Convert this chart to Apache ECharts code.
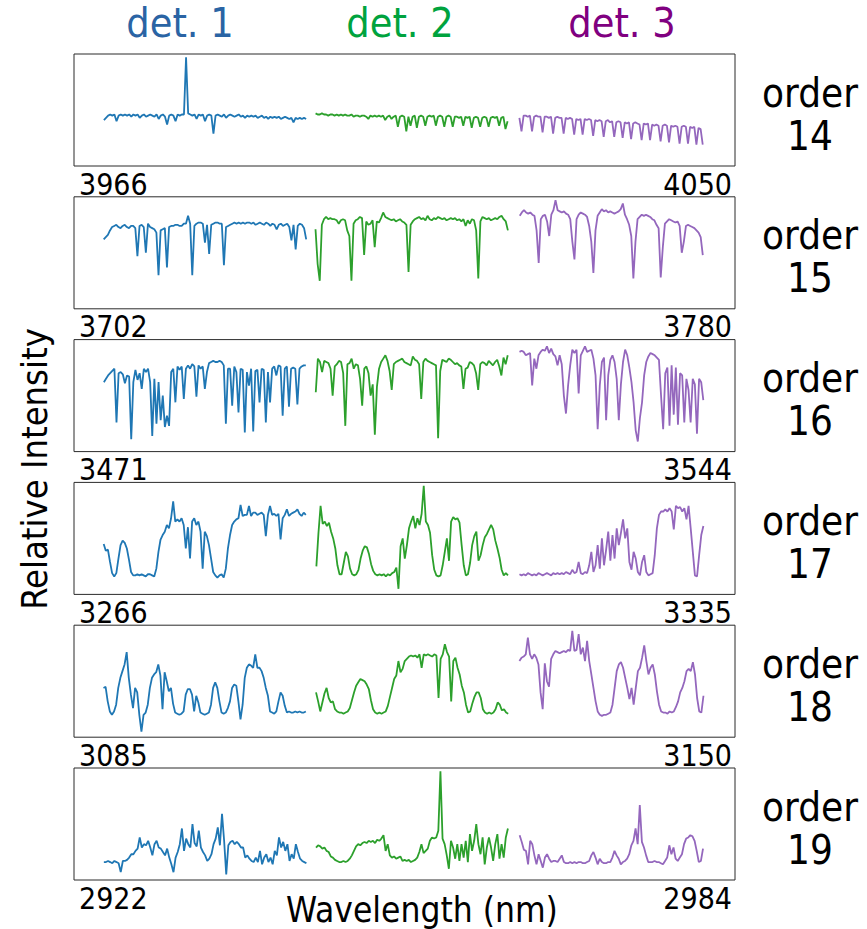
<!DOCTYPE html>
<html><head><meta charset="utf-8">
<script src="https://cdn.jsdelivr.net/npm/echarts@6/dist/echarts.min.js"></script>
<style>html,body{margin:0;padding:0;background:#fff}#c{width:867px;height:929px}</style>
</head><body><div id="c"></div>
<script>
// ---- data ----
const orderNames = ['14','15','16','17','18','19'];
const wlRanges = [[3966,4050],[3702,3780],[3471,3544],[3266,3335],[3085,3150],[2922,2984]];
const det1Span = [[3969.8,3995.5],[3705.5,3729.4],[3474.3,3496.6],[3269.1,3290.2],[3087.9,3107.8],[2924.8,2943.8]];
const det2Span = [[3996.7,4021.1],[3730.5,3753.2],[3497.7,3518.9],[3291.3,3311.3],[3108.8,3127.7],[2944.7,2962.7]];
const det3Span = [[4022.6,4045.9],[3754.6,3776.2],[3520.2,3540.5],[3312.5,3331.7],[3128.8,3146.9],[2963.8,2981.0]];
const detNames = ['det. 1','det. 2','det. 3'];

const o14d1 = [41,43,45,46,45,46,40,45,46,45,46,45,46,44,46,45,46,43,45,46,44,45,46,45,44,46,42,45,46,44,37,45,46,45,40,46,45,46,46,97,47,46,45,46,42,46,45,46,40,45,46,45,29,45,46,45,44,46,43,45,46,45,44,45,46,44,45,43,45,44,45,44,45,43,44,45,43,44,42,44,43,44,43,44,42,43,44,43,42,43,39,43,42,43,42,43,42];
const o14d2 = [47,46,46,47,46,46,45,46,46,45,46,45,46,45,46,45,45,46,44,45,45,44,45,45,44,42,45,44,45,44,45,44,45,41,44,45,42,44,45,35,44,45,44,31,44,36,44,45,34,44,45,44,36,44,45,44,45,36,44,45,44,35,44,45,44,35,44,44,43,44,36,44,43,44,34,43,44,43,35,43,44,43,35,43,44,43,44,36,43,44,33,40];
const o14d3 = [43,31,45,45,44,45,31,44,45,44,44,30,44,44,43,44,29,43,44,43,43,29,43,42,43,42,28,42,41,42,28,42,41,42,41,27,41,40,41,40,26,40,41,39,40,26,39,40,39,25,39,38,39,24,38,39,38,37,23,38,37,38,23,37,36,37,36,22,36,37,36,21,36,35,36,35,20,35,36,35,20,35,34,35,19,34,33,19];

const o15d1 = [62,64,66,70,73,74,75,73,72,74,75,73,72,74,74,72,47,74,75,73,50,76,73,72,71,68,30,70,71,72,37,73,74,74,75,75,74,74,76,76,83,76,30,74,76,77,77,76,59,75,49,75,76,77,77,76,76,39,73,74,75,76,77,76,77,76,77,76,77,77,76,77,75,76,77,76,75,77,76,74,76,75,71,75,76,74,75,76,73,61,75,53,74,76,75,72,62];
const o15d2 = [71,40,25,75,80,82,80,81,80,80,79,76,79,80,79,70,65,25,76,79,80,82,81,48,78,75,76,79,55,78,77,81,86,82,81,80,79,80,78,79,80,78,77,75,33,75,78,80,81,82,80,81,79,83,80,79,81,80,82,81,80,81,79,80,81,80,81,79,80,78,80,74,79,76,80,79,70,27,78,82,81,80,81,79,80,81,80,82,83,80,78,70];
const o15d3 = [83,86,88,86,85,86,84,83,70,41,80,83,84,78,65,84,88,97,88,87,86,87,85,84,80,60,44,80,84,86,85,84,82,74,60,32,70,83,86,89,87,88,86,87,86,85,86,87,89,94,84,80,75,65,27,60,80,82,84,83,84,83,82,80,79,75,72,28,55,76,78,80,79,78,77,78,74,50,60,74,75,74,73,72,70,68,64,48];

const o16d1 = [62,65,68,70,72,74,26,70,71,69,61,68,67,11,62,73,64,70,56,74,71,74,62,14,65,25,62,28,50,22,32,23,71,74,44,76,73,76,47,74,77,74,78,76,49,77,74,76,56,71,79,80,81,80,80,81,80,77,25,74,74,41,76,71,35,74,73,17,71,59,74,18,72,73,44,74,73,26,71,44,74,76,68,77,76,32,74,76,40,74,75,74,42,74,76,77,77];
const o16d2 = [53,83,80,71,81,80,79,74,50,76,78,81,80,70,23,78,79,83,74,78,77,65,41,74,76,70,50,60,15,58,74,80,83,86,81,72,55,78,80,81,82,83,80,79,78,77,85,82,81,78,47,80,83,81,80,79,78,77,12,72,82,81,80,83,82,80,78,79,77,76,56,74,75,80,79,77,70,55,78,80,79,77,81,79,77,80,82,76,68,84,78,86];
const o16d3 = [89,90,89,86,87,88,59,83,74,86,89,91,90,94,88,92,87,85,77,86,78,50,34,59,77,91,88,91,52,86,90,94,89,90,91,83,68,20,59,80,84,28,68,82,86,80,65,28,60,80,91,86,75,62,44,19,9,30,44,68,80,85,88,87,86,84,82,50,20,70,75,23,77,33,75,24,70,68,26,65,55,26,65,60,16,65,62,46];

const o17d1 = [45,39,40,29,19,16,19,32,44,48,46,41,31,20,17,17,18,17,18,17,16,18,18,17,16,23,38,49,53,56,62,59,68,83,65,67,65,68,62,41,60,32,65,68,62,65,56,23,56,52,44,32,20,17,15,17,18,15,23,41,53,62,65,67,68,80,70,71,71,79,70,73,73,71,72,73,71,52,71,79,71,72,70,72,49,68,71,76,70,72,73,74,76,72,70,73,71];
const o17d2 = [25,55,79,63,65,61,64,56,50,41,26,18,18,28,38,34,23,18,17,18,22,32,39,43,42,36,27,21,18,17,18,17,18,16,18,17,19,20,24,5,43,50,32,44,59,65,70,59,68,62,72,97,65,62,55,35,22,17,16,17,26,38,50,30,65,69,67,68,64,44,26,17,18,28,44,52,56,30,35,44,51,54,58,62,58,48,41,33,22,17,19,17];
const o17d3 = [18,17,18,17,19,18,17,18,17,19,18,17,18,19,18,17,19,18,19,18,19,18,20,19,18,22,19,20,29,19,18,20,19,26,38,20,26,44,23,50,26,40,56,30,53,32,59,44,55,67,50,59,29,22,38,32,20,17,29,35,20,17,18,19,35,59,71,74,74,76,74,77,74,58,79,77,78,74,77,67,79,59,38,17,16,35,53,61];

const o18d1 = [44,45,32,23,20,23,29,44,53,59,65,76,53,38,26,44,40,20,5,20,22,29,44,53,56,58,65,55,25,58,50,41,44,30,22,21,20,21,23,38,43,43,38,23,37,31,22,21,20,21,22,29,44,49,44,32,22,21,22,26,32,44,47,46,32,16,29,53,62,65,64,62,74,62,62,59,53,44,37,23,22,21,23,32,40,37,28,22,23,22,22,23,22,23,22,22,23];
const o18d2 = [40,32,23,31,39,44,35,31,32,25,23,22,22,21,22,23,26,33,40,46,49,52,51,50,47,43,33,25,22,21,22,21,22,23,28,36,44,52,55,68,58,61,68,70,72,73,72,73,71,74,62,74,73,74,73,72,74,73,35,70,74,83,76,72,32,68,71,62,56,46,40,29,22,23,30,36,40,40,35,25,22,21,22,21,22,25,31,29,24,25,22,21];
const o18d3 = [68,71,72,74,89,74,70,74,71,65,40,25,66,50,45,70,74,77,76,75,76,77,76,78,77,95,77,78,92,74,80,68,86,68,56,44,32,23,20,19,20,20,21,22,29,44,59,65,67,62,53,44,34,44,29,44,59,62,71,82,68,56,62,65,56,41,29,23,22,22,21,23,22,23,27,32,40,44,50,59,61,59,67,56,35,23,22,37];

const o19d1 = [16,16,17,16,15,17,16,15,7,17,17,18,20,23,23,26,28,38,29,32,31,35,29,22,32,35,29,28,25,22,28,20,14,7,20,25,32,46,26,37,32,29,50,33,30,44,29,25,22,17,19,23,32,37,47,31,59,35,5,31,34,35,32,34,32,29,29,20,22,19,17,16,20,16,26,14,20,23,16,20,14,26,22,38,29,34,26,32,17,23,19,32,25,19,17,16,15];
const o19d2 = [29,31,30,28,29,26,25,21,20,18,17,16,16,17,16,17,19,22,26,30,32,31,33,34,33,35,34,35,33,36,35,37,40,26,32,22,20,21,19,20,21,17,18,17,18,16,17,18,20,25,32,24,26,28,35,38,37,38,44,97,37,32,22,10,35,29,19,32,17,32,20,35,16,41,26,35,50,32,23,38,14,29,38,29,17,32,41,19,32,20,38,46];
const o19d3 = [40,34,27,26,14,35,32,22,14,23,17,11,20,23,19,16,17,17,16,19,22,16,15,15,16,15,16,15,16,16,15,15,16,17,22,25,20,14,19,16,15,15,16,16,20,26,22,19,14,16,17,19,23,31,35,46,32,67,34,29,22,16,16,16,17,16,16,15,14,17,20,31,23,29,19,17,20,23,32,37,38,40,39,35,26,16,17,28];

const fluxes = [
  [o14d1,o14d2,o14d3],[o15d1,o15d2,o15d3],[o16d1,o16d2,o16d3],
  [o17d1,o17d2,o17d3],[o18d1,o18d2,o18d3],[o19d1,o19d2,o19d3]
];
const spans = [det1Span, det2Span, det3Span];

// ---- layout / styles ----
const lineColors = ['#1f77b4','#2ca02c','#9467bd'];
const labelColors = ['#2a64a4','#00a33e','#800080'];
const FONT = '"DejaVu Sans Condensed","DejaVu Sans",sans-serif';
const gridLeft = 74, gridWidth = 661, gridH = 112, firstTop = 54, pitch = 142.8;

function toPoints(span, vals){
  const n = vals.length;
  return vals.map((v,i)=>[span[0] + (span[1]-span[0])*i/(n-1), v]);
}

const grid=[], xAxis=[], yAxis=[], series=[], graphic=[];
for (let k=0;k<6;k++){
  const top = firstTop + k*pitch;
  grid.push({left:gridLeft, top:top, width:gridWidth, height:gridH, show:true,
    borderColor:'#2b2b2b', borderWidth:1, backgroundColor:'transparent'});
  xAxis.push({type:'value', gridIndex:k, min:wlRanges[k][0], max:wlRanges[k][1],
    axisLine:{show:false}, axisTick:{show:false}, splitLine:{show:false},
    axisLabel:{show:true, customValues:[wlRanges[k][0], wlRanges[k][1]],
      formatter:(v)=>String(Math.round(v)),
      alignMinLabel:'left', alignMaxLabel:'right', margin:3, padding:[0,3,0,5],
      fontFamily:FONT, fontSize:30, color:'#000'}});
  yAxis.push({type:'value', gridIndex:k, min:0, max:100, show:false,
    splitLine:{show:false}});
  for (let d=0; d<3; d++){
    series.push({type:'line', xAxisIndex:k, yAxisIndex:k, showSymbol:false,
      symbol:'none', silent:true, animation:false,
      lineStyle:{color:lineColors[d], width:1.8}, itemStyle:{color:lineColors[d]},
      data: toPoints(spans[d][k], fluxes[k][d])});
  }
  graphic.push({type:'text', x:810, y: top + 60,
    style:{text:'order\n' + orderNames[k], fill:'#000', font:'40px ' + FONT,
      textAlign:'center', textVerticalAlign:'middle', align:'center', verticalAlign:'middle', lineHeight:43}});
}
const detX = [180, 400, 622];
for (let d=0; d<3; d++){
  graphic.push({type:'text', x:detX[d], y:23,
    style:{text:detNames[d], fill:labelColors[d], font:'41px ' + FONT,
      textAlign:'center', textVerticalAlign:'middle', align:'center', verticalAlign:'middle'}});
}
graphic.push({type:'text', x:422, y:910,
  style:{text:'Wavelength (nm)', fill:'#000', font:'35px ' + FONT,
    textAlign:'center', textVerticalAlign:'middle', align:'center', verticalAlign:'middle'}});
graphic.push({type:'text', x:34, y:469, rotation:Math.PI/2,
  style:{text:'Relative Intensity', fill:'#000', font:'36px ' + FONT,
    textAlign:'center', textVerticalAlign:'middle', align:'center', verticalAlign:'middle'}});

const chart = echarts.init(document.getElementById('c'), null, {renderer:'svg'});
chart.setOption({animation:false, backgroundColor:'#fff', grid, xAxis, yAxis, series, graphic});
</script></body></html>
